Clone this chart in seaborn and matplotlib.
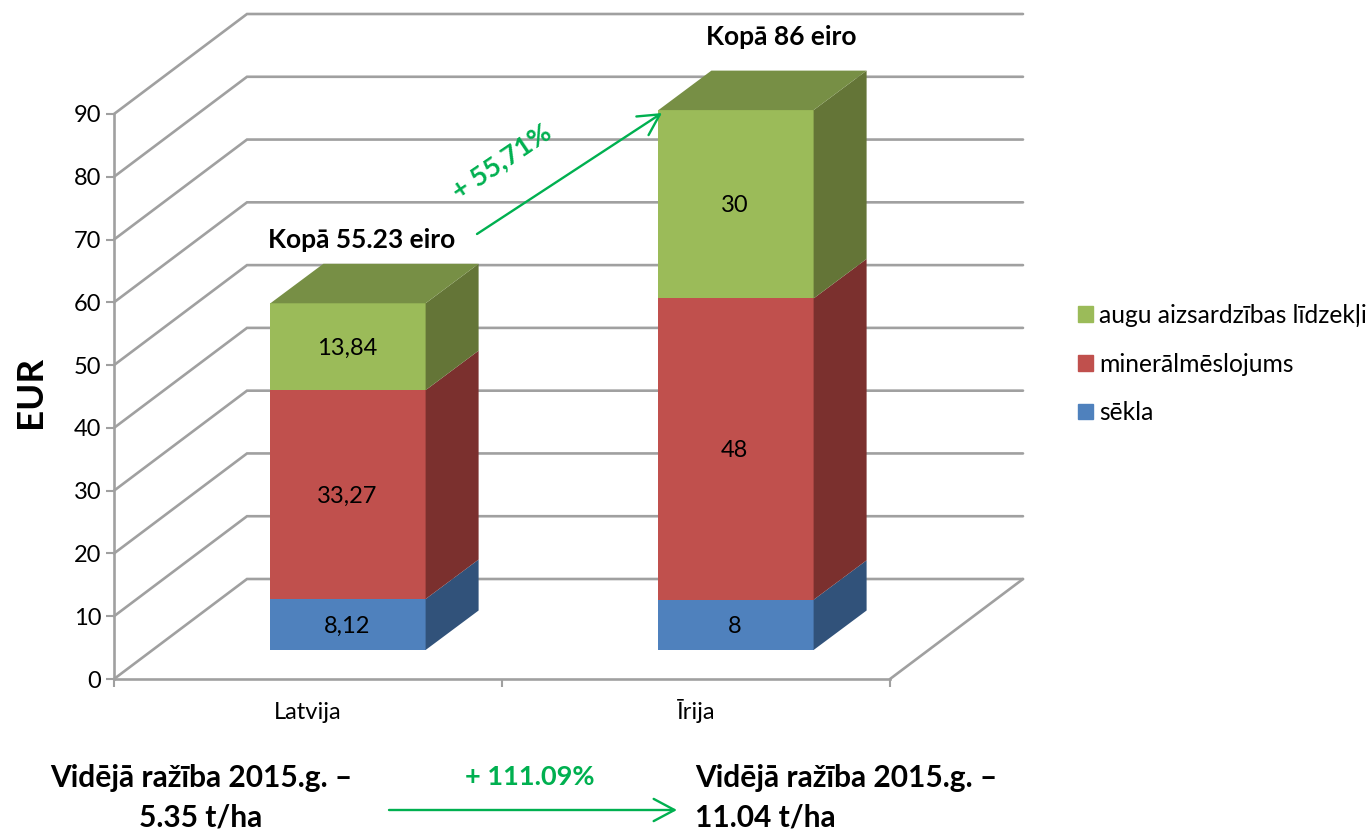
import matplotlib
matplotlib.use("Agg")
import matplotlib.pyplot as plt
import matplotlib.transforms as mtrans
from matplotlib.patches import Patch
import numpy as np
import seaborn as sns

countries = ["Latvija", "Īrija"]
series_names = ["sēkla", "minerālmēslojums", "augu aizsardzības līdzekļi"]
sekla = [8.12, 8]
minerali = [33.27, 48]
aizsardziba = [13.84, 30]
y_ticks = [0, 10, 20, 30, 40, 50, 60, 70, 80, 90]

front_colors = ["#4f81bd", "#c0504d", "#9bbb59"]
side_colors = ["#31527a", "#7b302e", "#647537"]
top_color = "#778f45"
grid_color = "#a0a0a0"
arrow_green = "#00b050"

W, H = 1371, 830
sns.set_theme(style="white")
plt.rcParams["font.family"] = ["Lato", "Noto Sans", "DejaVu Sans"]

fig = plt.figure(figsize=(W / 100, H / 100), dpi=100)
ax = fig.add_axes([114 / W, 1 - 679 / H, 776 / W, 565 / H])

# px -> data units (axes is 776 px for 2 categories, 565 px for 90 EUR)
PX_X = 2 / 776
PX_Y = 90 / 565


def px(x, y):
    return (x, H - y)


def ftext(x, y, s, **kw):
    fig.text(x / W, 1 - y / H, s, ha=kw.pop("ha", "center"), va=kw.pop("va", "center"), **kw)


# sienas un grīda
wall_dx = 133 * PX_X
wall_dy = 100 * PX_Y
x0, x1 = -0.5, 1.5
for v in y_ticks:
    ax.plot([x0, x0 + wall_dx, x1 + wall_dx], [v, v + wall_dy, v + wall_dy],
            color=grid_color, lw=1.9, clip_on=False, zorder=1, solid_joinstyle="miter")
ax.plot([x1, x1 + wall_dx], [0, wall_dy], color=grid_color, lw=1.9, clip_on=False, zorder=1)

# stabiņi: vispirms augstākais, priekšpuse no seaborn
layers = np.array([sekla, minerali, aizsardziba])
tops = layers.cumsum(axis=0)
bottoms = tops - layers
for i in [2, 1, 0]:
    sns.barplot(x=countries, y=tops[i], color=front_colors[i], saturation=1, width=0.4,
                ax=ax, zorder=3, edgecolor="none")

bar_off = mtrans.offset_copy(ax.transData, fig=fig, x=40, y=29, units="dots")
for p in ax.patches:
    p.set_transform(bar_off)
    p.set_clip_on(False)

bar_half = 0.2
bar_dx = 53 * PX_X
bar_dy = 39.5 * PX_Y
for c in range(len(countries)):
    right = c + bar_half
    left = c - bar_half
    for i in range(3):
        ax.fill([right, right + bar_dx, right + bar_dx, right],
                [bottoms[i, c], bottoms[i, c] + bar_dy, tops[i, c] + bar_dy, tops[i, c]],
                color=side_colors[i], lw=0, transform=bar_off, clip_on=False, zorder=3)
        val = layers[i, c]
        label = f"{val:g}".replace(".", ",")
        ax.text(c - 0.003, bottoms[i, c] + val / 2 - 1.5 * PX_Y, label, transform=bar_off,
                ha="center", va="center", fontsize=17, color="black", zorder=5)
    t = tops[2, c]
    ax.fill([left, left + bar_dx, right + bar_dx, right], [t, t + bar_dy, t + bar_dy, t],
            color=top_color, lw=0, transform=bar_off, clip_on=False, zorder=3)

# asis
ax.set_xlim(x0, x1)
ax.set_ylim(0, 90)
ax.set_yticks(y_ticks)
ax.set_xticks([0, 1])
ax.set_xticklabels(countries)
ax.set_xticks([-0.5, 0.5, 1.5], minor=True)
ax.patch.set_alpha(0)
for name in ["top", "right"]:
    ax.spines[name].set_visible(False)
for name in ["left", "bottom"]:
    ax.spines[name].set_color(grid_color)
    ax.spines[name].set_linewidth(1.9)
    ax.spines[name].set_zorder(2)
ax.tick_params(axis="y", which="major", left=True, length=6, width=1.5, color=grid_color,
               labelsize=17, labelcolor="black", pad=3)
ax.tick_params(axis="x", which="major", bottom=False, labelsize=17, labelcolor="black", pad=23)
ax.tick_params(axis="x", which="minor", bottom=True, length=6, width=1.5, color=grid_color)
for lbl in ax.get_xticklabels():
    lbl.set_va("baseline")
ax.set_ylabel("EUR", fontsize=26.5, fontweight="bold", color="black")
ax.yaxis.set_label_coords((47 - 114) / 776, (679 - 392) / 565)

# leģenda
handles = [Patch(color=front_colors[i], label=series_names[i]) for i in [2, 1, 0]]
fig.legend(handles=handles, loc="center left", bbox_to_anchor=(1078 / W, 1 - 364 / H),
           frameon=False, fontsize=17.7, handlelength=0.6, handleheight=0.6,
           handletextpad=0.25, labelspacing=1.05, labelcolor="black", borderpad=0, borderaxespad=0)

# kopsummas un uzraksti
ftext(362, 240, "Kopā 55.23 eiro", fontsize=19, fontweight="bold", color="black")
ftext(781, 37, "Kopā 86 eiro", fontsize=19, fontweight="bold", color="black")
ftext(501, 161, "+ 55,71%", fontsize=19.5, fontweight="bold", color=arrow_green, rotation=34)
ftext(530, 777, "+ 111.09%", fontsize=19.5, fontweight="bold", color=arrow_green)
ftext(201, 778, "Vidējā ražība 2015.g. –", fontsize=21.5, fontweight="bold", color="black")
ftext(201, 817, "5.35 t/ha", fontsize=21.5, fontweight="bold", color="black")
ftext(695, 778, "Vidējā ražība 2015.g. –", fontsize=21.5, fontweight="bold", color="black", ha="left")
ftext(695, 817, "11.04 t/ha", fontsize=21.5, fontweight="bold", color="black", ha="left")

arrow = dict(arrowstyle="->,head_length=0.75,head_width=0.4", color=arrow_green, lw=1.7,
             mutation_scale=20, shrinkA=0, shrinkB=0)
ax.annotate("", xy=px(662, 113), xytext=px(477, 234), xycoords="figure pixels",
            textcoords="figure pixels", arrowprops=arrow, zorder=6, annotation_clip=False)
ax.annotate("", xy=px(677, 810), xytext=px(389, 810), xycoords="figure pixels",
            textcoords="figure pixels", arrowprops=arrow, zorder=6, annotation_clip=False)

fig.savefig("out.png", dpi=100)
